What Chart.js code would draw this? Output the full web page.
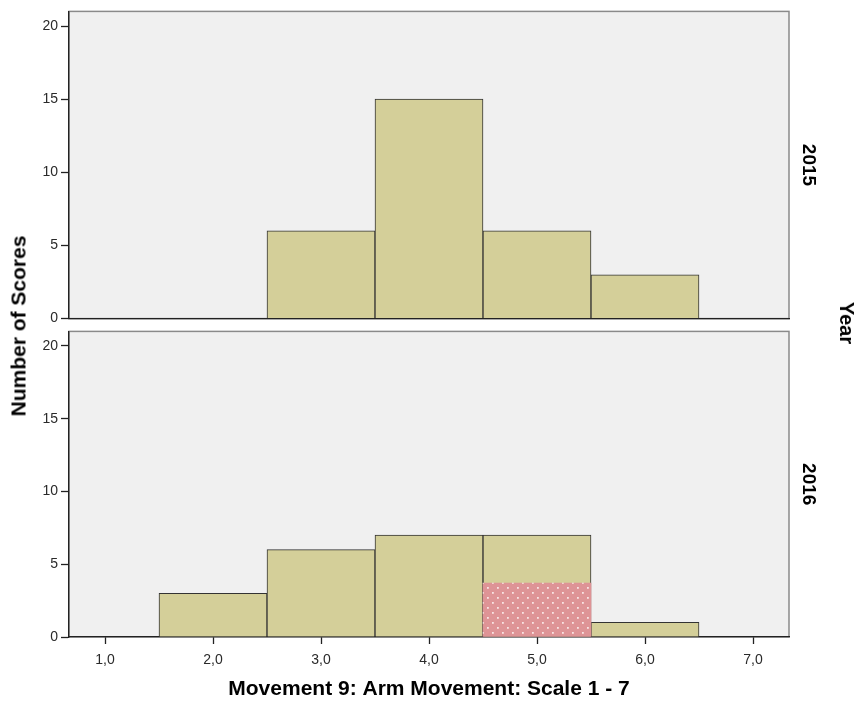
<!DOCTYPE html>
<html><head><meta charset="utf-8">
<script src="https://cdn.jsdelivr.net/npm/chart.js@4.4.0/dist/chart.umd.min.js"></script>
<style>
html,body{margin:0;padding:0;background:#fff}
body{width:856px;height:702px;position:relative;overflow:hidden;font-family:"Liberation Sans",Arial,sans-serif}
#c1{position:absolute;left:0;top:0}
#c2{position:absolute;left:0;top:320px}
.vt{position:absolute;font-weight:bold;color:#000;white-space:nowrap;line-height:1}
#ytitle{left:18px;top:326px;font-size:21px;transform:translate(-50%,-50%) rotate(-90deg)}
#year{left:847px;top:323px;font-size:20px;transform:translate(-50%,-50%) rotate(90deg)}
</style></head><body>
<canvas id="c1" width="856" height="330"></canvas>
<canvas id="c2" width="856" height="382"></canvas>
<div id="ytitle" class="vt">Number of Scores</div>
<div id="year" class="vt">Year</div>
<script>
// ---- data ----
const xTicks = [1, 2, 3, 4, 5, 6, 7];
const yTicks = [0, 5, 10, 15, 20];
const panelLabels = ["2015", "2016"];
const bins2015 = [3, 4, 5, 6];
const counts2015 = [6, 15, 6, 3];
const bins2016 = [2, 3, 4, 5, 6];
const counts2016 = [3, 6, 7, 7, 1];
const highlightBins2016 = [5];
const highlightCounts2016 = [3.7];
const xTitle = "Movement 9: Arm Movement: Scale 1 - 7";

Chart.defaults.font.family = '"Liberation Sans", Arial, sans-serif';
Chart.defaults.color = '#2a2a2a';

const TAN = '#d4cf99';
function dotPattern() {
  const c = document.createElement('canvas');
  c.width = 10; c.height = 10;
  const g = c.getContext('2d');
  g.fillStyle = '#de9496';
  g.fillRect(0, 0, 10, 10);
  g.fillStyle = '#f8e4e4';
  g.fillRect(2, 2, 1.8, 1.8);
  g.fillRect(7, 7, 1.8, 1.8);
  return g.createPattern(c, 'repeat');
}

const panelBg = {
  id: 'panelBg',
  beforeDraw(chart) {
    const {ctx, chartArea: a} = chart;
    ctx.save();
    ctx.fillStyle = '#f0f0f0';
    ctx.fillRect(a.left, a.top, a.right - a.left, a.bottom - a.top);
    ctx.strokeStyle = '#8a8a8a';
    ctx.lineWidth = 1.5;
    ctx.strokeRect(a.left, a.top, a.right - a.left, a.bottom - a.top);
    ctx.restore();
  }
};

function pts(xs, ys) { return xs.map((x, i) => ({x: x, y: ys[i]})); }

function makeChart(id, datasets, label, showX, padTop) {
  return new Chart(document.getElementById(id), {
    type: 'bar',
    data: {datasets: datasets},
    plugins: [panelBg],
    options: {
      responsive: false,
      animation: false,
      layout: {padding: {top: padTop, right: 36.6, left: 0, bottom: 0}},
      plugins: {legend: {display: false}, tooltip: {enabled: false}},
      scales: {
        x: {
          type: 'linear',
          offset: false,
          min: 2 / 3, max: 22 / 3,
          afterBuildTicks: s => { s.ticks = xTicks.map(v => ({value: v})); },
          afterFit: s => { s.height = showX ? 65 : 11; },
          ticks: {
            display: showX,
            font: {size: 14},
            padding: 8,
            maxRotation: 0,
            callback: v => v.toFixed(1).replace('.', ',')
          },
          grid: {offset: false, drawOnChartArea: false, drawTicks: showX, tickLength: 7, color: '#222', tickWidth: 1.3},
          border: {display: true, color: '#222', width: 1.3},
          title: {
            display: showX, text: xTitle,
            font: {size: 21, weight: 'bold'}, color: '#000',
            padding: {top: 0, bottom: 0}
          }
        },
        y: {
          min: 0, max: 21,
          afterBuildTicks: s => { s.ticks = yTicks.map(v => ({value: v})); },
          afterFit: s => { s.width = 69; },
          ticks: {font: {size: 14}, padding: 3},
          grid: {drawOnChartArea: false, tickLength: 8, color: '#222', tickWidth: 1.3},
          border: {display: true, color: '#222', width: 1.3}
        },
        yr: {
          position: 'right',
          min: 0, max: 21,
          afterFit: s => { s.width = 30.4; },
          ticks: {display: false},
          grid: {display: false, drawTicks: false},
          border: {display: false},
          title: {display: true, text: label, font: {size: 19, weight: 'bold'}, color: '#000', padding: 0}
        }
      },
      datasets: {bar: {barPercentage: 1, categoryPercentage: 1, grouped: false}}
    }
  });
}

makeChart('c1', [
  {data: pts(bins2015, counts2015), backgroundColor: TAN, borderColor: '#333', borderWidth: 1, order: 1}
], panelLabels[0], false, 9);

makeChart('c2', [
  {data: pts(bins2016, counts2016), backgroundColor: TAN, borderColor: '#333', borderWidth: 1, order: 1},
  {data: pts(highlightBins2016, highlightCounts2016), backgroundColor: dotPattern(), borderWidth: 0, order: 0}
], panelLabels[1], true, 7);
</script>
</body></html>
